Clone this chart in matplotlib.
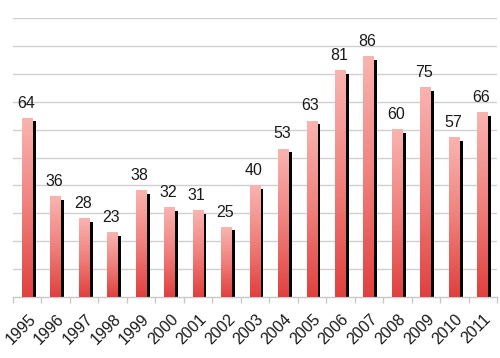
import matplotlib
matplotlib.use("Agg")
import matplotlib.pyplot as plt
import numpy as np
from matplotlib.colors import LinearSegmentedColormap
import matplotlib.transforms as mtransforms

years = ["1995", "1996", "1997", "1998", "1999", "2000", "2001", "2002", "2003",
         "2004", "2005", "2006", "2007", "2008", "2009", "2010", "2011"]
values = [64, 36, 28, 23, 38, 32, 31, 25, 40, 53, 63, 81, 86, 60, 75, 57, 66]

plt.rcParams['font.family'] = ['Liberation Sans', 'DejaVu Sans']

fig = plt.figure(figsize=(5.0, 3.58), dpi=100)
ax = fig.add_axes([0.026, 0.170, 0.968, 0.780])

n = len(values)
x = np.arange(n)
bw = 0.38
dx = 0.105
dy = 1.1

cmap = LinearSegmentedColormap.from_list("g", ["#e0403e", "#f0807c", "#fab4b0"])
grad = np.linspace(0, 1, 256).reshape(-1, 1)

for xi, v in zip(x, values):
    ax.bar(xi + dx, v - dy, width=bw, color="black", zorder=2)
    ax.imshow(grad, cmap=cmap, origin="lower", aspect="auto",
              extent=(xi - bw / 2, xi + bw / 2, 0, v), zorder=3)
    ax.text(xi - 0.05, v + 2.8, str(v), ha="center", va="bottom", fontsize=11.5,
            color="#1a1a1a", zorder=4)

ax.set_xlim(-0.5, n - 0.5)
ax.set_ylim(0, 100)
ax.set_yticks(np.arange(10, 101, 10))
ax.yaxis.grid(True, color="#d0d0d0", linewidth=1.0, zorder=0)
ax.set_axisbelow(True)
ax.tick_params(axis="y", length=0, labelleft=False)

for s in ["top", "right", "left"]:
    ax.spines[s].set_visible(False)
ax.spines["bottom"].set_color("#c8c8c8")
ax.spines["bottom"].set_linewidth(1.0)

ax.set_xticks(x)
ax.set_xticklabels(years, rotation=45, ha="right", va="center",
                   rotation_mode="anchor", fontsize=11.5, color="#1a1a1a")
ax.tick_params(axis="x", which="major", length=0, pad=14)
ax.set_xticks(np.arange(-0.5, n, 1.0), minor=True)
ax.tick_params(axis="x", which="minor", length=4, color="#c8c8c8", width=1)

offset = mtransforms.ScaledTranslation(6 / 100, 0, fig.dpi_scale_trans)
for lab in ax.get_xticklabels():
    lab.set_transform(lab.get_transform() + offset)

fig.savefig("out.png", dpi=100)
